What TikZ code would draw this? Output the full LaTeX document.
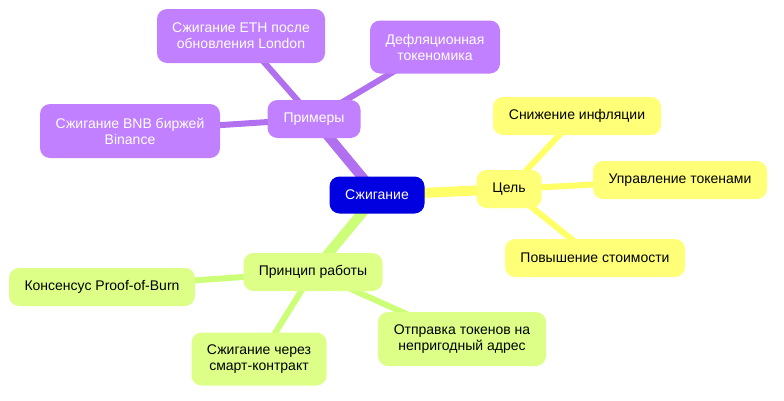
\documentclass[tikz,border=0pt]{standalone}
\usepackage{fontspec}
\setmainfont{Liberation Sans}
\definecolor{ylw}{HTML}{FFFF78}
\definecolor{ylwE}{HTML}{FFFF66}
\definecolor{prp}{HTML}{C080FF}
\definecolor{prpE}{HTML}{B070F0}
\definecolor{grn}{HTML}{DDFF88}
\definecolor{grnE}{HTML}{CCFF77}
\definecolor{rootc}{HTML}{0000E0}
\begin{document}
\begin{tikzpicture}[x=0.75pt,y=-0.75pt,
  box/.style={rounded corners=7.5pt,inner sep=0pt,align=center,font=\fontsize{10.5}{12}\selectfont},
  rootbox/.style={box,fill=rootc,text=white},
  ybox/.style={box,fill=ylw,text=black},
  pbox/.style={box,fill=prp,text=white},
  gbox/.style={box,fill=grn,text=black},
  e1/.style={line width=7.5pt},
  e2/.style={line width=4.5pt}]
\useasboundingbox (0,0) rectangle (784,400);
\coordinate (r) at (377,195);
\coordinate (c) at (509,189);
\coordinate (c1) at (577,116);
\coordinate (c2) at (680,180);
\coordinate (c3) at (595,258);
\coordinate (p) at (314,119);
\coordinate (p1) at (241,36);
\coordinate (p2) at (435,47);
\coordinate (p3) at (130,131);
\coordinate (g) at (313,272);
\coordinate (g1) at (102,287);
\coordinate (g2) at (259,359);
\coordinate (g3) at (462,339);
\draw[e1,ylwE] (r)--(c); \draw[e1,prpE] (r)--(p); \draw[e1,grnE] (r)--(g);
\draw[e2,ylwE] (c)--(c1) (c)--(c2) (c)--(c3);
\draw[e2,prpE] (p)--(p1) (p)--(p2) (p)--(p3);
\draw[e2,grnE] (g)--(g1) (g)--(g2) (g)--(g3);
\node[rootbox,minimum width=71.25pt,minimum height=27.75pt] (R) at (r) {Сжигание};
\node[ybox,minimum width=48.75pt,minimum height=28.5pt] (C) at (c) {Цель};
\node[ybox,minimum width=126pt,minimum height=28.5pt] (C1) at (c1) {Снижение инфляции};
\node[ybox,minimum width=130.5pt,minimum height=28.5pt] (C2) at (c2) {Управление токенами};
\node[ybox,minimum width=135pt,minimum height=28.5pt] (C3) at (c3) {Повышение стоимости};
\node[pbox,minimum width=69.75pt,minimum height=28.5pt] (P) at (p) {Примеры};
\node[pbox,minimum width=126pt,minimum height=40.5pt] (P1) at (p1) {Сжигание ETH после\\обновления London};
\node[pbox,minimum width=97.5pt,minimum height=39.75pt] (P2) at (p2) {Дефляционная\\токеномика};
\node[pbox,minimum width=135pt,minimum height=40.5pt] (P3) at (p3) {Сжигание BNB биржей\\Binance};
\node[gbox,minimum width=104.25pt,minimum height=28.5pt] (G) at (g) {Принцип работы};
\node[gbox,minimum width=139.5pt,minimum height=28.5pt] (G1) at (g1) {Консенсус Proof-of-Burn};
\node[gbox,minimum width=101.25pt,minimum height=39.75pt] (G2) at (g2) {Сжигание через\\смарт-контракт};
\node[gbox,minimum width=126pt,minimum height=40.5pt] (G3) at (g3) {Отправка токенов на\\непригодный адрес};
\end{tikzpicture}
\end{document}
